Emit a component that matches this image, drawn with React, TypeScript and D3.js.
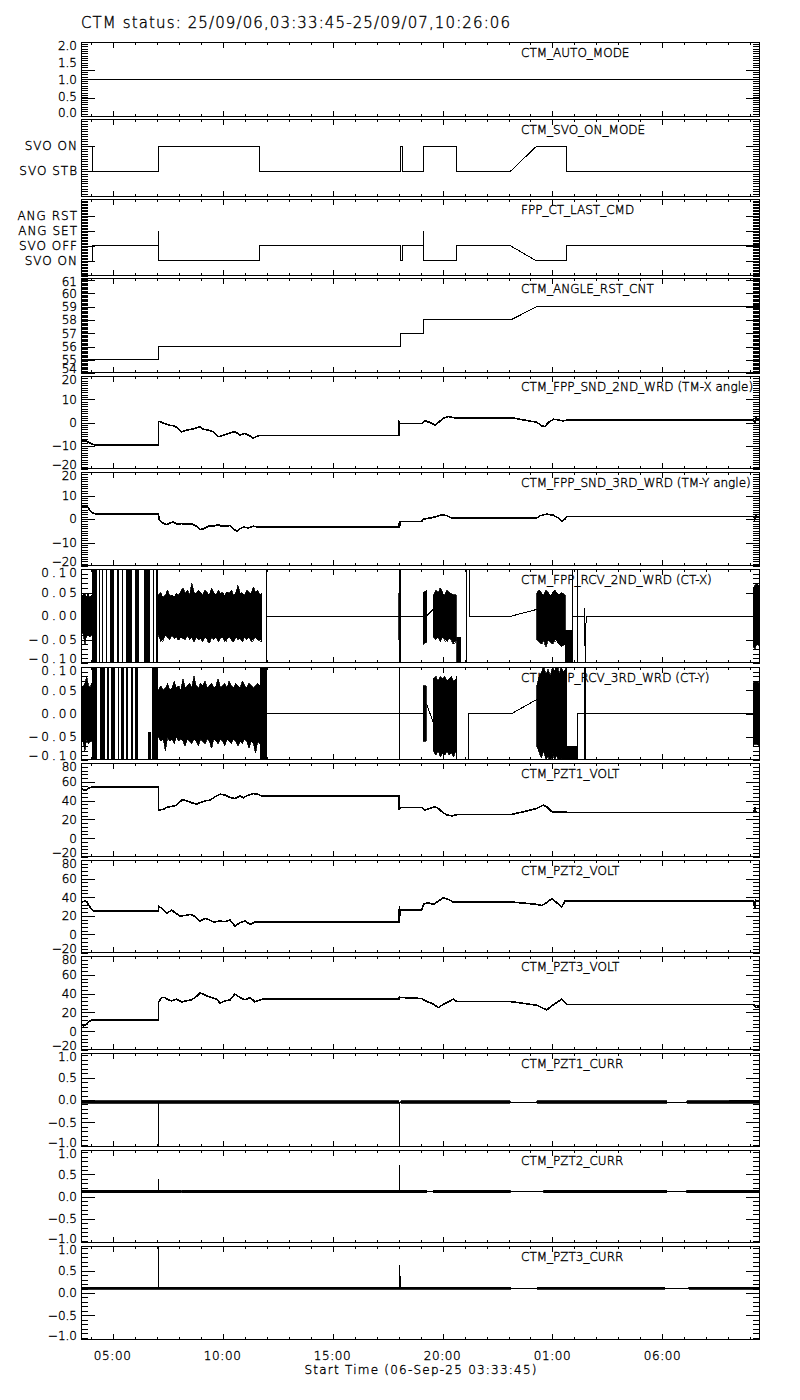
import React from 'react';
import * as d3 from 'd3';

type Pt = [number, number];
type Env = [number, number, number];
type Span = [number, number];

// time axis: decimal hours since 06-Sep 00:00
const T_START = 3.5625; // 03:33:45
const T_END = 34.435; // 07-Sep 10:26:06

const hourTicks = d3.range(4, 35);
const majorHourTicks = [5, 10, 15, 20, 25, 30];
const timeTickLabels = ['05:00', '10:00', '15:00', '20:00', '01:00', '06:00'];

// ---------- panel 1 : CTM_AUTO_MODE
const autoMode: Pt[] = [[T_START, 1], [T_END, 1]];
const autoTickVals = [0, 0.5, 1, 1.5, 2];
const autoTickText = ['0.0', '0.5', '1.0', '1.5', '2.0'];

// ---------- panel 2 : CTM_SVO_ON_MODE (0 = STB, 1 = ON)
const svoOnMode: Pt[] = [
  [4.063, 1], [4.063, 0], [7.078, 0], [7.078, 1], [11.70, 1], [11.70, 0],
  [18.07, 0], [18.07, 1], [18.17, 1], [18.17, 0], [19.13, 0], [19.13, 1],
  [20.62, 1], [20.62, 0], [23.10, 0], [24.286, 1], [25.62, 1], [25.62, 0], [T_END, 0],
];
const svoTickVals = [0, 1];
const svoTickText = ['SVO STB', 'SVO ON'];

// ---------- panel 3 : FPP_CT_LAST_CMD (0 SVO ON, 1 SVO OFF, 2 ANG SET, 3 ANG RST)
const lastCmd: Pt[] = [
  [4.063, 0], [4.063, 1], [7.078, 1], [7.078, 2], [7.079, 0], [11.70, 0], [11.70, 1],
  [18.07, 1], [18.07, 0], [18.17, 0], [18.17, 1], [19.13, 1], [19.13, 2], [19.131, 0],
  [20.62, 0], [20.62, 1], [23.10, 1], [24.286, 0], [25.62, 0], [25.62, 1], [T_END, 1],
];
const cmdTickVals = [0, 1, 2, 3];
const cmdTickText = ['SVO ON', 'SVO OFF', 'ANG SET', 'ANG RST'];

// ---------- panel 4 : CTM_ANGLE_RST_CNT
const angleRstCnt: Pt[] = [
  [T_START, 55], [7.078, 55], [7.078, 56], [18.07, 56], [18.07, 57], [19.13, 57],
  [19.13, 58], [23.10, 58], [24.286, 59], [T_END, 59],
];
const cntTickVals = [54, 55, 56, 57, 58, 59, 60, 61];

// ---------- panel 5 : TM-X angle
const tmXAngle: Pt[] = [
  [3.5625, -7.9], [3.744, -7.6], [3.896, -8.5], [4.047, -9.2], [4.198, -9.7], [7.078, -9.7],
  [7.078, 0.4], [7.154, 0.4], [7.305, -0.3], [7.457, -0.7], [7.608, -1.2], [7.760, -1.4],
  [7.912, -2.1], [8.139, -4.0], [8.366, -3.3], [8.594, -2.9], [8.821, -2.3], [8.973, -1.9],
  [9.124, -2.9], [9.351, -3.3], [9.579, -4.0], [9.806, -6.1], [9.958, -5.7], [10.185, -5.0],
  [10.412, -4.3], [10.564, -4.0], [10.791, -5.4], [11.019, -4.7], [11.170, -5.4], [11.398, -6.7],
  [11.625, -5.7], [11.777, -5.6], [18.02, -5.6], [18.03, 0.1], [18.069, -0.4], [19.054, -0.4],
  [19.206, 0.7], [19.433, 0.0], [19.661, -1.1], [19.812, 0.0], [20.040, 1.9], [20.267, 2.6],
  [20.494, 2.1], [20.646, 1.9], [23.223, 1.9], [24.284, 0.1], [24.511, -1.4], [24.663, -1.7],
  [24.815, 0.0], [25.042, 1.4], [25.269, 1.1], [25.497, 0.7], [25.648, 1.0], [34.15, 1.0],
  [34.2, -0.5], [34.25, 2.0], [34.3, 1.0], [T_END, 1.0],
];
const angleTickVals = [-20, -10, 0, 10, 20];

// ---------- panel 6 : TM-Y angle
const tmYAngle: Pt[] = [
  [3.5625, 5.4], [3.744, 5.7], [3.896, 4.7], [4.047, 2.8], [4.198, 2.2], [7.078, 2.2],
  [7.124, -0.3], [7.231, -1.4], [7.457, -2.4], [7.608, -1.7], [7.760, -1.3], [7.912, -2.1],
  [8.139, -2.0], [8.366, -2.1], [8.594, -2.1], [8.821, -3.1], [8.973, -4.5], [9.124, -4.2],
  [9.351, -3.1], [9.579, -3.1], [9.806, -2.4], [9.958, -3.1], [10.185, -3.1], [10.336, -2.8],
  [10.488, -4.2], [10.640, -5.2], [10.791, -4.2], [10.943, -3.4], [11.170, -3.8], [11.398, -3.1],
  [11.625, -3.4], [18.02, -3.4], [18.04, -1.0], [18.07, -3.0], [18.10, -1.0], [19.054, -1.0],
  [19.130, 0.0], [19.433, 0.4], [19.736, 1.1], [19.964, 1.8], [20.191, 1.4], [20.419, 0.4],
  [20.570, 0.4], [24.284, 0.4], [24.435, 1.4], [24.738, 2.1], [25.042, 1.6], [25.269, 0.4],
  [25.42, -1.0], [25.572, 0.0], [25.648, 1.1], [34.15, 1.1], [34.2, -0.4], [34.25, 1.5],
  [34.3, 1.1], [T_END, 1.1],
];

// ---------- panel 7 : CT-X
const ctXLine: Pt[] = [
  [11.97, 0], [18.00, 0], [18.00, NaN], [18.115, 0], [19.129, 0], [19.129, NaN],
  [19.283, 0], [19.583, 0.015], [19.583, NaN], [21.22, 0.11], [21.22, 0], [23.148, 0],
  [24.285, 0.014], [24.285, NaN], [25.94, 0], [26.44, 0], [26.46, 0.018], [26.49, -0.11],
  [26.53, 0], [34.122, 0],
];
const ctXBars: Span[] = [
  [4.048, 4.275], [4.381, 4.427], [4.502, 4.548], [4.699, 4.760], [4.881, 5.063],
  [5.215, 5.275], [5.412, 5.457], [5.609, 5.867], [6.018, 6.215], [6.427, 6.700],
  [6.822, 6.882], [6.973, 7.079], [11.96, 11.98], [18.00, 18.02], [18.08, 18.10],
  [21.06, 21.08], [25.87, 25.89], [26.10, 26.12],
];
const ctXEnv: Env[] = [
  [3.5625, -0.04, 0.04], [3.65, -0.035, 0.045], [3.74, -0.06, 0.05], [3.80, -0.045, 0.04],
  [3.88, -0.04, 0.05], [3.96, -0.045, 0.04], [4.048, -0.04, 0.045], [4.048, NaN, NaN],
  [7.08, -0.04, 0.045], [7.2, -0.055, 0.05], [7.3, -0.05, 0.04], [7.4, -0.042, 0.045],
  [7.5, -0.045, 0.055], [7.6, -0.05, 0.042], [7.7, -0.04, 0.045], [7.8, -0.048, 0.04],
  [7.9, -0.045, 0.05], [8.0, -0.052, 0.045], [8.1, -0.045, 0.052], [8.2, -0.048, 0.06],
  [8.3, -0.05, 0.048], [8.4, -0.042, 0.055], [8.5, -0.05, 0.045], [8.6, -0.045, 0.07],
  [8.7, -0.055, 0.05], [8.8, -0.045, 0.048], [8.9, -0.05, 0.055], [9.0, -0.048, 0.05],
  [9.1, -0.055, 0.045], [9.2, -0.045, 0.055], [9.3, -0.05, 0.05], [9.4, -0.058, 0.045],
  [9.5, -0.045, 0.06], [9.6, -0.05, 0.05], [9.7, -0.045, 0.045], [9.8, -0.055, 0.055],
  [9.9, -0.048, 0.048], [10.0, -0.045, 0.05], [10.1, -0.055, 0.045], [10.2, -0.05, 0.052],
  [10.3, -0.045, 0.048], [10.4, -0.05, 0.055], [10.5, -0.055, 0.045], [10.6, -0.045, 0.05],
  [10.7, -0.05, 0.065], [10.8, -0.048, 0.048], [10.9, -0.055, 0.05], [11.0, -0.045, 0.045],
  [11.1, -0.05, 0.055], [11.2, -0.045, 0.05], [11.3, -0.055, 0.048], [11.4, -0.05, 0.062],
  [11.5, -0.045, 0.05], [11.6, -0.052, 0.055], [11.7, -0.05, 0.045], [11.78, -0.055, 0.05],
  [11.78, NaN, NaN], [18.0, -0.05, 0.05], [18.1, -0.05, 0.05], [18.1, NaN, NaN],
  [19.129, -0.06, 0.05], [19.283, -0.055, 0.055], [19.283, NaN, NaN],
  [19.583, -0.045, 0.045], [19.7, -0.05, 0.055], [19.8, -0.045, 0.05], [19.9, -0.055, 0.06],
  [20.0, -0.045, 0.05], [20.1, -0.05, 0.045], [20.2, -0.055, 0.055], [20.3, -0.048, 0.05],
  [20.4, -0.05, 0.048], [20.5, -0.06, 0.045], [20.62, -0.05, 0.045], [20.62, NaN, NaN],
  [20.65, -0.11, -0.045], [20.83, -0.11, -0.045], [20.83, NaN, NaN],
  [24.285, -0.05, 0.05], [24.4, -0.055, 0.055], [24.5, -0.06, 0.05],
  [24.6, -0.05, 0.045], [24.7, -0.065, 0.055], [24.8, -0.05, 0.05], [24.9, -0.055, 0.045],
  [25.0, -0.06, 0.05], [25.1, -0.05, 0.055], [25.2, -0.055, 0.05], [25.3, -0.06, 0.045],
  [25.4, -0.065, 0.05], [25.57, -0.06, 0.045], [25.57, NaN, NaN],
  [25.57, -0.11, -0.03], [25.88, -0.11, -0.03], [25.88, NaN, NaN],
  [34.122, -0.065, 0.06], [34.2, -0.07, 0.065], [34.3, -0.06, 0.07], [T_END, -0.065, 0.06],
];

// ---------- panel 8 : CT-Y
const ctYLine: Pt[] = [
  [12.01, 0], [18.00, 0], [18.00, NaN], [18.05, 0], [19.129, 0], [19.129, NaN],
  [19.28, 0.02], [19.58, -0.02], [19.58, NaN], [20.65, 0.08], [20.65, -0.11], [20.65, NaN],
  [21.18, -0.11], [21.18, 0], [23.15, 0], [24.285, 0.03], [24.285, NaN],
  [26.12, -0.11], [26.12, 0], [26.44, 0], [26.44, NaN], [26.53, 0], [34.122, 0],
];
const ctYBars: Span[] = [
  [4.048, 4.275], [4.427, 4.669], [4.730, 4.821], [4.927, 5.109], [5.26, 5.306],
  [5.381, 5.518], [5.609, 5.715], [5.836, 5.942], [6.018, 6.17], [6.776, 7.079],
  [11.70, 12.01], [18.00, 18.05], [26.44, 26.53],
];
const ctYEnv: Env[] = [
  [3.5625, -0.055, 0.06], [3.65, -0.06, 0.055], [3.74, -0.08, 0.065], [3.82, -0.055, 0.08],
  [3.9, -0.065, 0.06], [3.98, -0.06, 0.055], [4.048, -0.06, 0.065], [4.048, NaN, NaN],
  [6.624, -0.11, -0.04], [6.73, -0.11, -0.04], [6.73, NaN, NaN],
  [7.08, -0.05, 0.05], [7.2, -0.06, 0.06], [7.3, -0.055, 0.05], [7.4, -0.08, 0.055],
  [7.5, -0.05, 0.065], [7.6, -0.06, 0.05], [7.7, -0.055, 0.055], [7.8, -0.065, 0.07],
  [7.9, -0.05, 0.055], [8.0, -0.06, 0.06], [8.1, -0.055, 0.05], [8.2, -0.06, 0.075],
  [8.3, -0.07, 0.055], [8.4, -0.055, 0.06], [8.5, -0.06, 0.065], [8.6, -0.065, 0.055],
  [8.7, -0.055, 0.08], [8.8, -0.06, 0.06], [8.9, -0.07, 0.055], [9.0, -0.055, 0.065],
  [9.1, -0.06, 0.06], [9.2, -0.065, 0.07], [9.3, -0.055, 0.055], [9.4, -0.06, 0.06],
  [9.5, -0.075, 0.065], [9.6, -0.055, 0.055], [9.7, -0.06, 0.06], [9.8, -0.065, 0.075],
  [9.9, -0.055, 0.055], [10.0, -0.06, 0.06], [10.1, -0.07, 0.065], [10.2, -0.055, 0.055],
  [10.3, -0.06, 0.07], [10.4, -0.065, 0.06], [10.5, -0.055, 0.055], [10.6, -0.06, 0.065],
  [10.7, -0.07, 0.06], [10.8, -0.06, 0.055], [10.9, -0.065, 0.07], [11.0, -0.055, 0.06],
  [11.1, -0.06, 0.055], [11.2, -0.075, 0.065], [11.3, -0.06, 0.06], [11.4, -0.065, 0.055],
  [11.5, -0.085, 0.06], [11.6, -0.06, 0.065], [11.7, -0.065, 0.06], [11.7, NaN, NaN],
  [19.129, -0.06, 0.06], [19.25, -0.06, 0.06], [19.25, NaN, NaN],
  [19.58, -0.08, 0.075], [19.7, -0.09, 0.08], [19.8, -0.08, 0.07], [19.9, -0.093, 0.079],
  [20.0, -0.085, 0.075], [20.1, -0.09, 0.08], [20.2, -0.08, 0.07], [20.3, -0.09, 0.075],
  [20.4, -0.085, 0.08], [20.5, -0.093, 0.07], [20.62, -0.08, 0.075], [20.62, NaN, NaN],
  [24.285, -0.07, 0.06], [24.4, -0.085, 0.08], [24.5, -0.095, 0.09], [24.6, -0.08, 0.1],
  [24.7, -0.1, 0.085], [24.8, -0.09, 0.095], [24.9, -0.11, 0.08], [25.0, -0.085, 0.1],
  [25.1, -0.1, 0.09], [25.2, -0.09, 0.11], [25.3, -0.11, 0.085], [25.4, -0.095, 0.1],
  [25.5, -0.11, 0.09], [25.65, -0.1, 0.1], [25.65, NaN, NaN],
  [25.65, -0.11, -0.07], [26.12, -0.11, -0.07], [26.12, NaN, NaN],
  [34.122, -0.07, 0.065], [34.2, -0.065, 0.07], [T_END, -0.07, 0.065],
];
const ctTickVals = [-0.1, -0.05, 0, 0.05, 0.1];

// ---------- panel 9 : PZT1 volt
const pzt1Volt: Pt[] = [
  [3.5625, 52.9], [3.744, 50.4], [3.896, 52.9], [4.047, 54.6], [7.078, 54.6], [7.078, 30.0],
  [7.305, 30.7], [7.457, 32.8], [7.608, 33.5], [7.760, 34.2], [7.912, 35.2], [8.064, 38.7],
  [8.185, 41.2], [8.366, 39.8], [8.594, 37.7], [8.821, 36.3], [8.973, 37.7], [9.2, 39.8],
  [9.428, 40.5], [9.656, 44.0], [9.883, 46.8], [10.11, 45.8], [10.34, 43.3], [10.56, 42.3],
  [10.79, 44.8], [10.94, 43.0], [11.17, 45.8], [11.40, 47.5], [11.63, 46.5], [11.78, 44.8],
  [18.02, 44.8], [18.03, 30.0], [18.069, 32.8], [19.054, 32.8], [19.206, 30.0], [19.433, 31.7],
  [19.661, 33.5], [19.812, 31.7], [19.964, 28.2], [20.191, 24.7], [20.419, 23.7], [20.570, 24.7],
  [20.72, 25.4], [23.147, 25.4], [23.829, 28.9], [24.284, 31.7], [24.587, 35.2], [24.739, 33.5],
  [24.966, 28.2], [25.194, 27.5], [25.497, 28.2], [25.648, 27.5], [34.15, 27.5], [34.2, 33.0],
  [34.25, 27.5], [T_END, 27.5],
];
// ---------- panel 10 : PZT2 volt
const pzt2Volt: Pt[] = [
  [3.5625, 34.7], [3.744, 35.8], [3.85, 34.0], [4.047, 26.9], [4.123, 25.1], [7.078, 25.1],
  [7.078, 30.5], [7.305, 26.9], [7.457, 22.6], [7.685, 26.2], [7.837, 23.3], [8.064, 19.7],
  [8.29, 20.4], [8.52, 21.5], [8.67, 20.4], [8.973, 14.3], [9.2, 17.2], [9.35, 16.1],
  [9.58, 13.3], [9.88, 14.3], [10.11, 13.6], [10.34, 15.4], [10.56, 9.0], [10.79, 12.5],
  [11.02, 14.3], [11.25, 10.8], [11.47, 13.3], [11.70, 13.3], [18.02, 13.3], [18.04, 31.0],
  [18.06, 20.0], [18.10, 26.2], [19.054, 26.2], [19.13, 32.3], [19.357, 34.1], [19.585, 32.3],
  [19.812, 35.8], [20.04, 39.4], [20.267, 37.6], [20.494, 34.7], [23.223, 34.7], [24.284, 32.3],
  [24.511, 31.2], [24.739, 34.1], [24.966, 38.4], [25.194, 34.1], [25.42, 29.7], [25.572, 35.8],
  [34.15, 35.8], [34.2, 29.0], [34.25, 36.5], [34.3, 35.8], [T_END, 35.8],
];
// ---------- panel 11 : PZT3 volt
const pzt3Volt: Pt[] = [
  [3.5625, 7.2], [3.669, 5.4], [3.79, 7.2], [3.896, 9.7], [4.047, 11.9], [7.078, 11.9],
  [7.078, 30.5], [7.23, 35.9], [7.38, 35.9], [7.53, 33.4], [7.685, 32.3], [7.91, 34.1],
  [8.14, 31.2], [8.37, 32.3], [8.59, 33.4], [8.82, 37.0], [8.97, 40.6], [9.12, 39.5],
  [9.28, 37.7], [9.50, 35.9], [9.73, 34.1], [9.88, 29.8], [10.11, 32.3], [10.34, 33.4],
  [10.56, 39.5], [10.79, 35.9], [11.02, 33.4], [11.25, 35.9], [11.47, 31.2], [11.70, 33.4],
  [11.85, 34.1], [18.02, 34.1], [18.04, 37.5], [18.06, 35.9], [19.054, 34.8], [19.206, 32.3],
  [19.51, 29.8], [19.81, 25.1], [20.04, 28.7], [20.27, 31.2], [20.49, 34.1], [20.65, 31.6],
  [23.07, 31.6], [24.284, 27.6], [24.51, 25.1], [24.74, 22.6], [24.97, 27.0], [25.19, 30.5],
  [25.42, 34.1], [25.648, 28.3], [34.15, 28.3], [34.25, 25.0], [T_END, 26.5],
];
const voltTickVals = [-20, 0, 20, 40, 60, 80];

// ---------- panels 12-14 : currents
const pzt1Curr: Pt[] = [
  [T_START, -0.05], [7.078, -0.05], [7.078, -1.1], [7.085, -0.05], [18.024, -0.05],
  [18.024, -1.1], [18.034, -0.05], [T_END, -0.05],
];
const pzt1CurrEnv: Env[] = [
  [T_START, -0.07, -0.02], [18.0, -0.07, -0.02], [18.0, NaN, NaN], [18.1, -0.07, -0.02],
  [23.07, -0.07, -0.02], [23.07, NaN, NaN], [24.28, -0.07, -0.02], [30.2, -0.07, -0.02],
  [30.2, NaN, NaN], [31.1, -0.07, -0.02], [T_END, -0.07, -0.005],
];
const pzt2Curr: Pt[] = [
  [T_START, 0.11], [7.078, 0.11], [7.078, 0.39], [7.085, 0.11], [18.024, 0.11],
  [18.024, 0.71], [18.034, 0.11], [T_END, 0.11],
];
const pzt2CurrEnv: Env[] = [
  [T_START, 0.08, 0.145], [8.12, 0.08, 0.145], [8.12, NaN, NaN], [8.16, 0.08, 0.145],
  [19.28, 0.08, 0.145], [19.28, NaN, NaN], [19.58, 0.08, 0.145], [23.07, 0.08, 0.145],
  [23.07, NaN, NaN], [24.6, 0.08, 0.145], [30.2, 0.08, 0.145], [30.2, NaN, NaN],
  [31.1, 0.08, 0.145], [T_END, 0.08, 0.145],
];
const pzt3Curr: Pt[] = [
  [T_START, 0.1], [7.078, 0.1], [7.078, 1.2], [7.085, 0.1], [18.024, 0.1],
  [18.024, 0.63], [18.034, 0.1], [18.09, 0.1], [18.09, 0.37], [18.1, 0.1], [T_END, 0.1],
];
const pzt3CurrEnv: Env[] = [
  [T_START, 0.08, 0.125], [23.1, 0.08, 0.125], [23.1, NaN, NaN], [24.3, 0.08, 0.125],
  [30.1, 0.08, 0.125], [30.1, NaN, NaN], [31.2, 0.08, 0.125], [T_END, 0.08, 0.125],
];
const currTickVals = [-1, -0.5, 0, 0.5, 1];

// ---------- layout
const X_LEFT = 81;
const X_RIGHT = 760;
const panelBox: [number, number][] = [
  [42, 117], [119, 197], [199, 276], [278, 373], [376, 469], [472, 566], [569, 663],
  [667, 760], [763, 857], [860, 953], [956, 1050], [1053, 1147], [1150, 1243], [1246, 1340],
];

interface Spec {
  title: string;
  domain: [number, number];
  tickVals: number[];
  tickText: string[];
  majors: number[];
  minorStep: number;
  lines: { pts: Pt[]; w: number }[];
  env?: Env[];
  bars?: Span[];
  labelSpacing?: number;
}

const minus = (s: string) => s.replace('-', '\u2212');
const f1 = (v: number) => minus(d3.format('.1f')(v));
const f2 = (v: number) => minus(d3.format('.2f')(v));
const f0 = (v: number) => minus(d3.format('d')(v));

const specs: Spec[] = [
  { title: 'CTM_AUTO_MODE', domain: [-0.1, 2.1], tickVals: autoTickVals, tickText: autoTickText,
    majors: [0.45, 1.29], minorStep: 0.068, lines: [{ pts: autoMode, w: 1 }] },
  { title: 'CTM_SVO_ON_MODE', domain: [-1.04, 2.08], tickVals: svoTickVals, tickText: svoTickText,
    majors: svoTickVals, minorStep: 0.1, lines: [{ pts: svoOnMode, w: 1 }], labelSpacing: 1 },
  { title: 'FPP_CT_LAST_CMD', domain: [-1.0, 4.13], tickVals: cmdTickVals, tickText: cmdTickText,
    majors: cmdTickVals, minorStep: 0.1, lines: [{ pts: lastCmd, w: 1 }], labelSpacing: 1 },
  { title: 'CTM_ANGLE_RST_CNT', domain: [54.02, 61.15], tickVals: cntTickVals, tickText: cntTickVals.map(f0),
    majors: cntTickVals, minorStep: 0.1, lines: [{ pts: angleRstCnt, w: 1 }] },
  { title: 'CTM_FPP_SND_2ND_WRD (TM-X angle)', domain: [-20, 20], tickVals: angleTickVals,
    tickText: angleTickVals.map(f0), majors: [-10, 0, 10], minorStep: 1, lines: [{ pts: tmXAngle, w: 1.6 }] },
  { title: 'CTM_FPP_SND_3RD_WRD (TM-Y angle)', domain: [-20, 20], tickVals: angleTickVals,
    tickText: angleTickVals.map(f0), majors: [-10, 0, 10], minorStep: 1, lines: [{ pts: tmYAngle, w: 1.6 }] },
  { title: 'CTM_FPP_RCV_2ND_WRD (CT-X)', domain: [-0.1, 0.1], tickVals: ctTickVals,
    tickText: ctTickVals.map(f2), majors: [-0.05, 0, 0.05], minorStep: 0.01,
    lines: [{ pts: ctXLine, w: 1 }], env: ctXEnv, bars: ctXBars, labelSpacing: 3 },
  { title: 'CTM_FPP_RCV_3RD_WRD (CT-Y)', domain: [-0.1, 0.1], tickVals: ctTickVals,
    tickText: ctTickVals.map(f2), majors: [-0.05, 0, 0.05], minorStep: 0.01,
    lines: [{ pts: ctYLine, w: 1 }], env: ctYEnv, bars: ctYBars, labelSpacing: 3 },
  { title: 'CTM_PZT1_VOLT', domain: [-20, 80], tickVals: voltTickVals, tickText: voltTickVals.map(f0),
    majors: [0, 20, 40, 60], minorStep: 4, lines: [{ pts: pzt1Volt, w: 1.6 }] },
  { title: 'CTM_PZT2_VOLT', domain: [-20, 80], tickVals: voltTickVals, tickText: voltTickVals.map(f0),
    majors: [0, 20, 40, 60], minorStep: 4, lines: [{ pts: pzt2Volt, w: 1.6 }] },
  { title: 'CTM_PZT3_VOLT', domain: [-20, 80], tickVals: voltTickVals, tickText: voltTickVals.map(f0),
    majors: [0, 20, 40, 60], minorStep: 4, lines: [{ pts: pzt3Volt, w: 1.6 }] },
  { title: 'CTM_PZT1_CURR', domain: [-1.05, 1.05], tickVals: currTickVals, tickText: currTickVals.map(f1),
    majors: [-0.5, 0, 0.5], minorStep: 0.1, lines: [{ pts: pzt1Curr, w: 1 }], env: pzt1CurrEnv },
  { title: 'CTM_PZT2_CURR', domain: [-1.05, 1.05], tickVals: currTickVals, tickText: currTickVals.map(f1),
    majors: [-0.5, 0, 0.5], minorStep: 0.1, lines: [{ pts: pzt2Curr, w: 1 }], env: pzt2CurrEnv },
  { title: 'CTM_PZT3_CURR', domain: [-1.05, 1.05], tickVals: currTickVals, tickText: currTickVals.map(f1),
    majors: [-0.5, 0, 0.5], minorStep: 0.1, lines: [{ pts: pzt3Curr, w: 1 }], env: pzt3CurrEnv },
];

const x = d3.scaleLinear().domain([T_START, T_END]).range([X_LEFT, X_RIGHT]);
const FONT = 'DejaVu Sans, Verdana, sans-serif';
const textStyle = { fontFamily: FONT, fontWeight: 200, fill: '#000', stroke: '#000', strokeWidth: 0.35 };

function Panel({ spec, top, bottom, idx }: { spec: Spec; top: number; bottom: number; idx: number }) {
  const y = d3.scaleLinear().domain(spec.domain).range([bottom, top]);
  const line = d3.line<Pt>().defined((d) => !isNaN(d[1])).x((d) => x(d[0])).y((d) => y(d[1]));
  const area = d3.area<Env>().defined((d) => !isNaN(d[1])).x((d) => x(d[0])).y0((d) => y(d[1])).y1((d) => y(d[2]));
  const [d0, d1] = spec.domain;
  const k0 = Math.ceil(d0 / spec.minorStep - 1e-6);
  const k1 = Math.floor(d1 / spec.minorStep + 1e-6);
  const minors = d3.range(k0, k1 + 1).map((k) => k * spec.minorStep);
  const clipId = `clip-${idx}`;
  const clampY = (v: number) => Math.max(top + 4, Math.min(bottom - 4, y(v)));
  const ls = spec.labelSpacing || 0;
  return (
    <g>
      <defs>
        <clipPath id={clipId}>
          <rect x={X_LEFT} y={top} width={X_RIGHT - X_LEFT} height={bottom - top} />
        </clipPath>
      </defs>
      <g clipPath={`url(#${clipId})`}>
        {spec.bars &&
          spec.bars.map((b, i) => (
            <rect key={i} x={x(b[0])} y={top} width={Math.max(1, x(b[1]) - x(b[0]))} height={bottom - top} fill="#000" />
          ))}
        {spec.env && <path d={area(spec.env) || ''} fill="#000" stroke="#000" strokeWidth={0.8} />}
        {spec.lines.map((l, i) => (
          <path key={i} d={line(l.pts) || ''} fill="none" stroke="#000" strokeWidth={l.w} />
        ))}
      </g>
      <rect x={X_LEFT + 0.5} y={top + 0.5} width={X_RIGHT - X_LEFT - 1} height={bottom - top - 1} fill="none" stroke="#000" strokeWidth={1} />
      {hourTicks.map((h) => {
        const len = majorHourTicks.includes(h) ? 6 : 3;
        const xx = Math.round(x(h)) + 0.5;
        return (
          <g key={h}>
            <line x1={xx} x2={xx} y1={top} y2={top + len} stroke="#000" />
            <line x1={xx} x2={xx} y1={bottom} y2={bottom - len} stroke="#000" />
          </g>
        );
      })}
      {minors.map((v, i) => {
        const yy = Math.round(y(v)) + 0.5;
        return (
          <g key={'m' + i}>
            <line x1={X_LEFT} x2={X_LEFT + 7} y1={yy} y2={yy} stroke="#000" />
            <line x1={X_RIGHT} x2={X_RIGHT - 7} y1={yy} y2={yy} stroke="#000" />
          </g>
        );
      })}
      {spec.majors.map((v, i) => {
        const yy = Math.round(y(v)) + 0.5;
        return (
          <g key={'M' + i}>
            <line x1={X_LEFT} x2={X_LEFT + 14} y1={yy} y2={yy} stroke="#000" />
            <line x1={X_RIGHT} x2={X_RIGHT - 14} y1={yy} y2={yy} stroke="#000" />
          </g>
        );
      })}
      {spec.tickVals.map((v, i) => (
        <text key={'t' + i} x={77 + ls} y={clampY(v)} dy="0.36em" textAnchor="end" fontSize={12}
          letterSpacing={ls} style={textStyle}>
          {spec.tickText[i]}
        </text>
      ))}
      <text x={521} y={top + 15} fontSize={12} style={textStyle}>
        {spec.title}
      </text>
    </g>
  );
}

export default function App() {
  const last = panelBox[panelBox.length - 1];
  return (
    <svg width={800} height={1400} style={{ position: 'absolute', left: 0, top: 0 }} shapeRendering="crispEdges">
      <rect x={0} y={0} width={800} height={1400} fill="#fff" />
      <text x={81} y={28} fontSize={15} textLength={429} lengthAdjust="spacing" style={textStyle}>
        CTM status: 25/09/06,03:33:45-25/09/07,10:26:06
      </text>
      {specs.map((s, i) => (
        <Panel key={i} spec={s} top={panelBox[i][0]} bottom={panelBox[i][1]} idx={i} />
      ))}
      {majorHourTicks.map((h, i) => (
        <text key={h} x={x(h)} y={last[1] + 20} textAnchor="middle" fontSize={12} letterSpacing={0.6} style={textStyle}>
          {timeTickLabels[i]}
        </text>
      ))}
      <text x={(X_LEFT + X_RIGHT) / 2} y={last[1] + 34} textAnchor="middle" fontSize={12}
        textLength={232} lengthAdjust="spacing" style={textStyle}>
        Start Time (06-Sep-25 03:33:45)
      </text>
    </svg>
  );
}
